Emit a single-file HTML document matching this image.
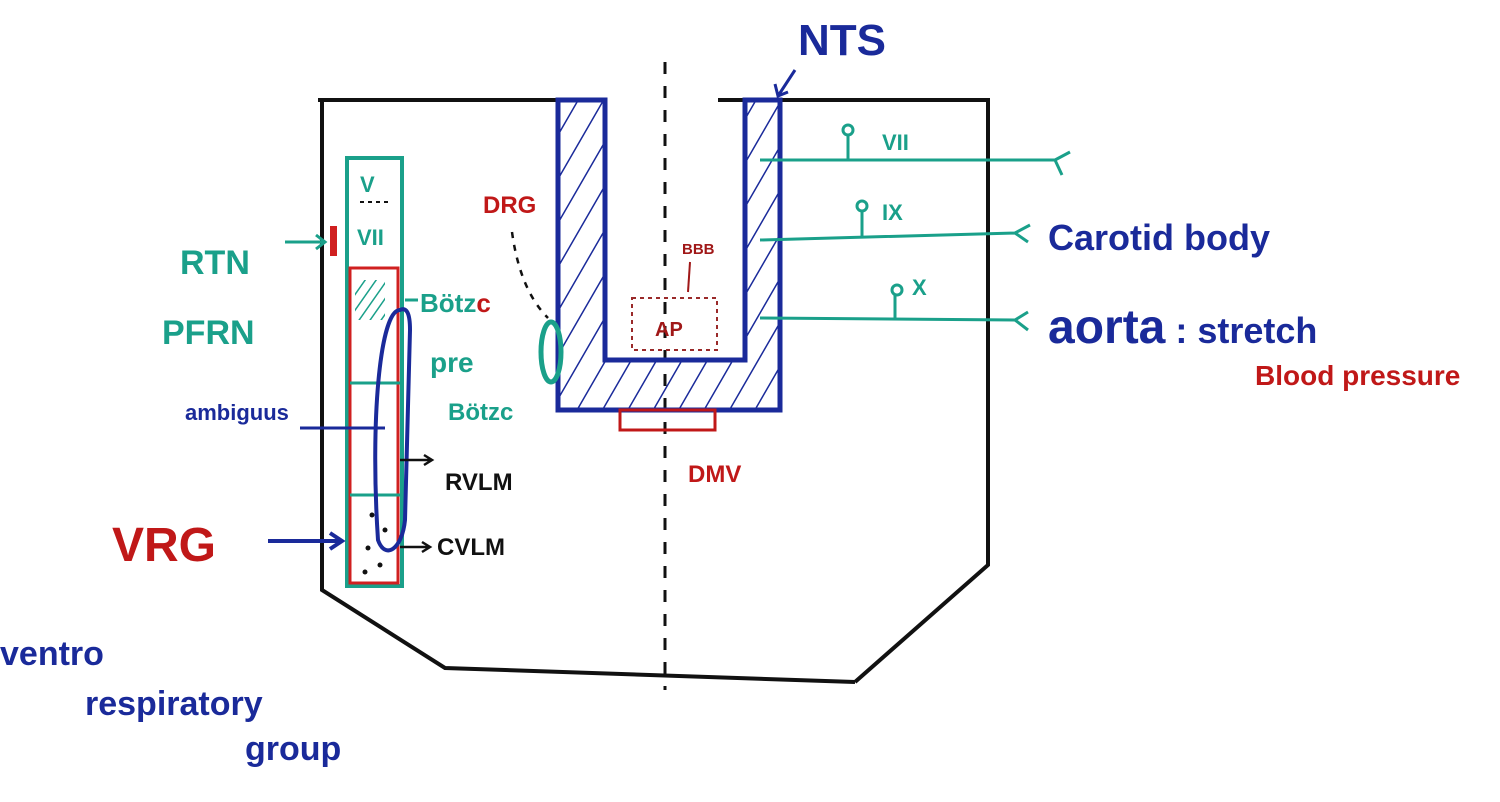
<!DOCTYPE html>
<html><head><meta charset="utf-8"><style>
body{margin:0;background:#fff}
svg{display:block}
text{font-family:"Liberation Sans",sans-serif;font-weight:bold}
</style></head><body>
<svg width="1500" height="802" viewBox="0 0 1500 802" xmlns="http://www.w3.org/2000/svg">
<defs>
<pattern id="h" width="22" height="22" patternUnits="userSpaceOnUse" patternTransform="rotate(30)">
<line x1="0" y1="0" x2="0" y2="22" stroke="#1a2a9a" stroke-width="3"/></pattern>
<pattern id="ht" width="9" height="9" patternUnits="userSpaceOnUse" patternTransform="rotate(35)">
<line x1="0" y1="0" x2="0" y2="9" stroke="#1aa08a" stroke-width="3"/></pattern>
</defs>
<g fill="none" stroke="#111" stroke-width="4">
<path d="M318 100 H560"/><path d="M718 100 H990"/>
<path d="M322 100 V590 L445 668 L855 682"/>
<path d="M988 100 V565 L855 682"/>
</g>
<line x1="665" y1="62" x2="665" y2="690" stroke="#111" stroke-width="3" stroke-dasharray="12 12"/>
<!-- U shape -->
<path d="M558 100 V410 H780 V100 H745 V360 H605 V100 Z" fill="url(#h)" stroke="#1a2a9a" stroke-width="5"/>
<rect x="632" y="298" width="85" height="52" fill="none" stroke="#9a2a2a" stroke-width="2" stroke-dasharray="4 4"/>
<text x="655" y="336" font-size="20" fill="#a01818">AP</text>
<text x="682" y="254" font-size="15" fill="#a01818">BBB</text>
<path d="M690 262 L688 292" stroke="#a01818" stroke-width="2"/>
<rect x="620" y="410" width="95" height="20" fill="none" stroke="#c01818" stroke-width="3"/>
<text x="688" y="482" font-size="24" fill="#c01818">DMV</text>
<text x="483" y="213" font-size="24" fill="#c01818">DRG</text>
<path d="M512 232 Q520 290 548 318" stroke="#111" stroke-width="2.5" stroke-dasharray="6 7" fill="none"/>
<ellipse cx="551" cy="352" rx="10" ry="30" fill="none" stroke="#1aa08a" stroke-width="5"/>
<!-- left column -->
<rect x="347" y="158" width="55" height="428" fill="none" stroke="#1aa08a" stroke-width="4"/>
<path d="M350 268 H398 V583 H350 Z" fill="none" stroke="#d02020" stroke-width="3"/>
<rect x="355" y="280" width="30" height="40" fill="url(#ht)"/>
<line x1="350" y1="383" x2="400" y2="383" stroke="#1aa08a" stroke-width="3"/>
<line x1="350" y1="495" x2="400" y2="495" stroke="#1aa08a" stroke-width="3"/>
<text x="360" y="192" font-size="22" fill="#1aa08a">V</text>
<line x1="360" y1="202" x2="390" y2="202" stroke="#111" stroke-width="2" stroke-dasharray="4 4"/>
<text x="357" y="245" font-size="22" fill="#1aa08a">VII</text>
<path d="M400 310 C380 310 370 420 378 540 C385 560 402 550 405 520 L410 330 Q410 305 400 310Z" fill="none" stroke="#1a2a9a" stroke-width="4"/>
<rect x="330" y="226" width="7" height="30" fill="#d02020"/>
<text x="180" y="274" font-size="34" fill="#1aa08a" font-weight="normal">RTN</text>
<path d="M285 242 H325 M316 235 L325 242 L316 249" stroke="#1aa08a" stroke-width="3" fill="none"/>
<text x="162" y="344" font-size="34" fill="#1aa08a" font-weight="normal">PFRN</text>
<text x="420" y="312" font-size="26" fill="#1aa08a">Bötz<tspan fill="#c01818">c</tspan></text>
<path d="M405 300 H418" stroke="#1aa08a" stroke-width="3"/>
<text x="430" y="372" font-size="28" fill="#1aa08a">pre</text>
<text x="448" y="420" font-size="24" fill="#1aa08a">Bötzc</text>
<text x="185" y="420" font-size="22" fill="#1a2a9a">ambiguus</text>
<path d="M300 428 H385" stroke="#1a2a9a" stroke-width="3"/>
<text x="445" y="490" font-size="24" fill="#111">RVLM</text>
<path d="M400 460 H430 M424 455 L432 460 L424 465" stroke="#111" stroke-width="2.5" fill="none"/>
<text x="437" y="555" font-size="24" fill="#111">CVLM</text>
<path d="M400 547 H428 M422 542 L430 547 L422 552" stroke="#111" stroke-width="2.5" fill="none"/>
<g fill="#111"><circle cx="372" cy="515" r="2.5"/><circle cx="385" cy="530" r="2.5"/><circle cx="368" cy="548" r="2.5"/><circle cx="380" cy="565" r="2.5"/><circle cx="365" cy="572" r="2.5"/></g>
<text x="112" y="561" font-size="48" fill="#c01818" font-weight="normal">VRG</text>
<path d="M268 541 H340 M330 533 L342 541 L330 549" stroke="#1a2a9a" stroke-width="4" fill="none"/>
<text x="0" y="665" font-size="34" fill="#1a2a9a" font-weight="normal">ventro</text>
<text x="85" y="715" font-size="34" fill="#1a2a9a" font-weight="normal">respiratory</text>
<text x="245" y="760" font-size="34" fill="#1a2a9a" font-weight="normal">group</text>
<text x="798" y="55" font-size="44" fill="#1a2a9a" font-weight="normal">NTS</text>
<path d="M795 70 L778 96 M775 84 L778 96 L788 92" stroke="#1a2a9a" stroke-width="3" fill="none"/>
<!-- nerves -->
<g stroke="#1aa08a" stroke-width="3" fill="none">
<path d="M760 160 H1055 M1055 160 L1070 152 M1055 160 L1062 175"/>
<path d="M848 160 V135"/><circle cx="848" cy="130" r="5"/>
<path d="M760 240 L1015 233 M1015 233 L1030 225 M1015 233 L1028 242"/>
<path d="M862 237 V210"/><circle cx="862" cy="206" r="5"/>
<path d="M760 318 L1015 320 M1015 320 L1028 312 M1015 320 L1028 330"/>
<path d="M895 318 V294"/><circle cx="897" cy="290" r="5"/>
</g>
<text x="882" y="150" font-size="22" fill="#1aa08a">VII</text>
<text x="882" y="220" font-size="22" fill="#1aa08a">IX</text>
<text x="912" y="295" font-size="22" fill="#1aa08a">X</text>
<text x="1048" y="250" font-size="36" fill="#1a2a9a" font-weight="normal">Carotid body</text>
<text x="1048" y="343" font-size="48" fill="#1a2a9a" font-weight="normal">aorta<tspan font-size="36"> : stretch</tspan></text>
<text x="1255" y="385" font-size="28" fill="#c01818">Blood pressure</text>
</svg>
</body></html>
